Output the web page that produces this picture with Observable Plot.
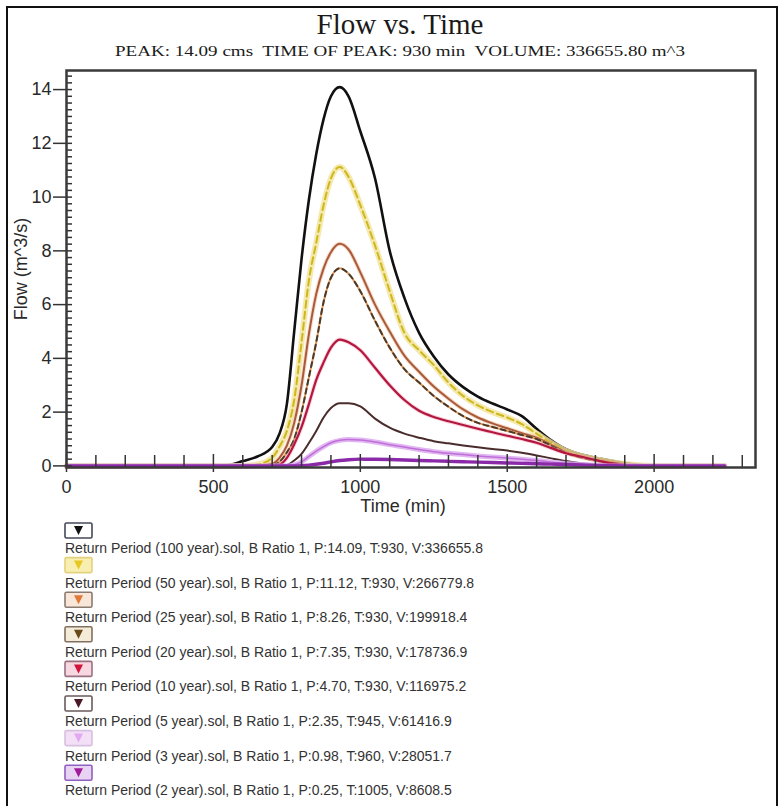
<!DOCTYPE html>
<html>
<head>
<meta charset="utf-8">
<script src="https://cdn.jsdelivr.net/npm/d3@7"></script>
<script src="https://cdn.jsdelivr.net/npm/@observablehq/plot@0.6"></script>
<style>
  body { margin: 0; background: #fff; }
  #page { position: relative; width: 782px; height: 806px; overflow: hidden; background: #fff; }
  #border { position: absolute; left: 6px; top: 6px; width: 772px; height: 840px; border: 2.5px solid #111; box-sizing: border-box; }
  #chart { position: absolute; left: 0; top: 0; }
  #overlay { position: absolute; left: 0; top: 0; }
</style>
</head>
<body>
<div id="page">
  <div id="border"></div>
  <div id="chart"></div>
  <svg id="overlay" width="782" height="806"></svg>
</div>
<script>
// ---------- data ----------
const titleText = "Flow vs. Time";
const subtitleText = "PEAK: 14.09 cms  TIME OF PEAK: 930 min  VOLUME: 336655.80 m^3";
const xLabel = "Time (min)";
const yLabel = "Flow (m^3/s)";
const xMajor = [0, 500, 1000, 1500, 2000];
const yMajor = [0, 2, 4, 6, 8, 10, 12, 14];

const times = [0, 500, 550, 600, 650, 700, 725, 750, 775, 800, 825, 850, 875, 900, 930, 960, 1000, 1050, 1100, 1150, 1200, 1250, 1300, 1350, 1400, 1450, 1500, 1550, 1600, 1650, 1700, 1750, 1800, 1850, 1900, 1950, 2000, 2240];

const flow100 = [0, 0, 0.03, 0.18, 0.35, 0.7, 1.2, 2.3, 5.0, 7.7, 9.9, 11.6, 12.9, 13.75, 14.09, 13.75, 12.45, 10.7, 8.0, 6.25, 4.95, 4.07, 3.4, 2.93, 2.58, 2.32, 2.1, 1.85, 1.38, 0.95, 0.62, 0.43, 0.3, 0.2, 0.11, 0.04, 0, 0];
const flow50  = [0, 0, 0, 0, 0.05, 0.3, 0.72, 1.3, 2.45, 4.6, 6.9, 8.3, 9.7, 10.7, 11.12, 10.75, 9.7, 8.2, 6.5, 4.95, 4.3, 3.75, 3.1, 2.6, 2.25, 2.0, 1.8, 1.55, 1.2, 0.85, 0.55, 0.37, 0.25, 0.15, 0.07, 0.02, 0, 0];
const flow25  = [0, 0, 0, 0, 0, 0.08, 0.3, 0.75, 1.6, 3.0, 4.9, 6.4, 7.35, 7.95, 8.26, 8.05, 7.2, 6.0, 5.0, 4.1, 3.5, 2.95, 2.5, 2.1, 1.8, 1.58, 1.4, 1.22, 1.05, 0.78, 0.5, 0.33, 0.22, 0.13, 0.05, 0, 0, 0];
const flow20  = [0, 0, 0, 0, 0, 0.03, 0.15, 0.5, 1.0, 2.0, 3.3, 4.6, 6.1, 7.0, 7.35, 7.15, 6.5, 5.4, 4.4, 3.6, 3.1, 2.6, 2.2, 1.85, 1.6, 1.45, 1.3, 1.15, 1.0, 0.75, 0.48, 0.32, 0.2, 0.12, 0.05, 0, 0, 0];
const flow10  = [0, 0, 0, 0, 0, 0, 0.05, 0.3, 0.8, 1.45, 2.3, 3.2, 3.85, 4.4, 4.70, 4.6, 4.3, 3.65, 3.0, 2.45, 2.05, 1.82, 1.66, 1.52, 1.38, 1.25, 1.12, 1.0, 0.86, 0.66, 0.47, 0.35, 0.22, 0.1, 0.03, 0, 0, 0];
const flow5   = [0, 0, 0, 0, 0, 0, 0, 0.03, 0.2, 0.45, 0.85, 1.3, 1.8, 2.15, 2.33, 2.33, 2.21, 1.76, 1.42, 1.2, 1.05, 0.92, 0.84, 0.76, 0.69, 0.63, 0.57, 0.49, 0.39, 0.28, 0.18, 0.1, 0.04, 0, 0, 0, 0, 0];
const flow3   = [0, 0, 0, 0, 0, 0, 0, 0, 0.04, 0.15, 0.35, 0.55, 0.72, 0.86, 0.95, 0.98, 0.96, 0.89, 0.79, 0.7, 0.61, 0.53, 0.47, 0.42, 0.37, 0.33, 0.29, 0.25, 0.2, 0.14, 0.09, 0.05, 0.02, 0, 0, 0, 0, 0];
const flow2   = [0, 0, 0, 0, 0, 0, 0, 0, 0, 0.01, 0.03, 0.06, 0.1, 0.15, 0.2, 0.23, 0.25, 0.245, 0.235, 0.22, 0.2, 0.185, 0.17, 0.155, 0.14, 0.125, 0.11, 0.095, 0.08, 0.065, 0.05, 0.035, 0.02, 0.01, 0, 0, 0, 0];

const seriesKeys = ["100 year", "50 year", "25 year", "20 year", "10 year", "5 year", "3 year", "2 year"];
const seriesValues = [flow100, flow50, flow25, flow20, flow10, flow5, flow3, flow2];
const legendText = [
  "Return Period (100 year).sol, B Ratio 1, P:14.09, T:930, V:336655.8",
  "Return Period (50 year).sol, B Ratio 1, P:11.12, T:930, V:266779.8",
  "Return Period (25 year).sol, B Ratio 1, P:8.26, T:930, V:199918.4",
  "Return Period (20 year).sol, B Ratio 1, P:7.35, T:930, V:178736.9",
  "Return Period (10 year).sol, B Ratio 1, P:4.70, T:930, V:116975.2",
  "Return Period (5 year).sol, B Ratio 1, P:2.35, T:945, V:61416.9",
  "Return Period (3 year).sol, B Ratio 1, P:0.98, T:960, V:28051.7",
  "Return Period (2 year).sol, B Ratio 1, P:0.25, T:1005, V:8608.5"
];

// ---------- styles ----------
const lineStyles = [
  [{stroke: "#111111", strokeWidth: 2.6}],
  [{stroke: "#f2e49a", strokeWidth: 6, strokeOpacity: 0.8}, {stroke: "#cdb81e", strokeWidth: 2, strokeDasharray: "7,4"}],
  [{stroke: "#efb48a", strokeWidth: 4, strokeOpacity: 0.5}, {stroke: "#a85a3c", strokeWidth: 2}],
  [{stroke: "#e39a5a", strokeWidth: 2}, {stroke: "#4a3a2c", strokeWidth: 2, strokeDasharray: "5,4"}],
  [{stroke: "#f3a0b8", strokeWidth: 4, strokeOpacity: 0.5}, {stroke: "#b3173e", strokeWidth: 2.2}],
  [{stroke: "#4a2c2c", strokeWidth: 2}],
  [{stroke: "#dcaaf0", strokeWidth: 5, strokeOpacity: 0.85}, {stroke: "#c06ed8", strokeWidth: 1.5}],
  [{stroke: "#8a2aa8", strokeWidth: 3.4}]
];
const legendStyle = [
  {fill: "#ffffff", stroke: "#44485a", tri: "#111111"},
  {fill: "#f7eeb0", stroke: "#e2d27e", tri: "#e8c820"},
  {fill: "#f8e6d8", stroke: "#8a7a70", tri: "#e07838"},
  {fill: "#f4ecd8", stroke: "#807060", tri: "#6a4a18"},
  {fill: "#f8d8e0", stroke: "#9a7080", tri: "#d0143c"},
  {fill: "#ffffff", stroke: "#6a5a5a", tri: "#4a1828"},
  {fill: "#f3e0f6", stroke: "#d8c0e0", tri: "#e2a8f0"},
  {fill: "#e8d4f2", stroke: "#9060c0", tri: "#a01c9c"}
];

// ---------- chart ----------
const W = 782, H = 520, mT = 70, mB = 53, mL = 66, mR = 27;
const FW = W - mL - mR, FH = H - mT - mB;
const rows = seriesKeys.flatMap((k, i) => times.map((t, j) => ({series: k, t, v: seriesValues[i][j]})));
const xMinor = d3.range(100, 2301, 100).filter(d => !xMajor.includes(d));
const yMinor = d3.range(0.25, 14.51, 0.25).filter(d => !yMajor.includes(d));

const lineMarks = [];
seriesKeys.forEach((k, i) => {
  const data = rows.filter(r => r.series === k);
  lineStyles[i].forEach(s => lineMarks.push(Plot.line(data, {x: "t", y: "v", curve: "monotone-x", strokeLinejoin: "round", ...s})));
});

const tickColor = "#333";
const chart = Plot.plot({
  width: W, height: H,
  marginTop: mT, marginBottom: mB, marginLeft: mL, marginRight: mR,
  x: {domain: [0, 2345]},
  y: {domain: [-0.06, 14.71]},
  style: {background: "transparent", fontFamily: "'Liberation Sans', Arial, sans-serif", color: "#222", overflow: "visible"},
  marks: [
    ...lineMarks,
    Plot.tickX(xMinor, {x: d => d, insetTop: FH - 12, stroke: tickColor, strokeWidth: 1.5}),
    Plot.tickX(xMajor, {x: d => d, insetTop: FH - 13, insetBottom: -5, stroke: tickColor, strokeWidth: 1.5}),
    Plot.tickY(yMinor, {y: d => d, insetRight: FW - 6, stroke: tickColor, strokeWidth: 1.5}),
    Plot.tickY(yMajor, {y: d => d, insetLeft: -13, insetRight: FW - 6, stroke: tickColor, strokeWidth: 1.5}),
    Plot.frame({stroke: "#3a3a3a", strokeWidth: 2.5}),
    Plot.axisX(xMajor, {tickSize: 0, tickPadding: 13, fontSize: 18, label: null, fill: "#2a2a2a", tickFormat: d => String(d)}),
    Plot.axisY(yMajor, {tickSize: 0, tickPadding: 15, fontSize: 18, label: null, fill: "#2a2a2a", tickFormat: d => String(d)}),
    Plot.text([xLabel], {frameAnchor: "bottom", dx: -8, dy: 32, lineAnchor: "top", fontSize: 18, fill: "#2a2a2a"}),
    Plot.text([yLabel], {frameAnchor: "left", textAnchor: "middle", dx: -45, rotate: -90, fontSize: 18, fill: "#2a2a2a"})
  ]
});
document.getElementById("chart").appendChild(chart);

// ---------- header + legend ----------
const ov = d3.select("#overlay");
ov.append("text").attr("x", 400).attr("y", 34).attr("text-anchor", "middle")
  .attr("font-family", "'Liberation Serif', 'Times New Roman', serif").attr("font-size", 29).attr("fill", "#1a1a1a")
  .text(titleText);
ov.append("text").attr("x", 400).attr("y", 55.5).attr("text-anchor", "middle")
  .attr("font-family", "'Liberation Serif', 'Times New Roman', serif").attr("font-size", 14.5).attr("fill", "#1a1a1a")
  .attr("textLength", 570).attr("lengthAdjust", "spacingAndGlyphs")
  .style("white-space", "pre")
  .text(subtitleText);

const step = 34.6;
legendText.forEach((label, i) => {
  const top = 523 + i * step;
  const st = legendStyle[i];
  const g = ov.append("g");
  g.append("rect").attr("x", 65).attr("y", top).attr("width", 27).attr("height", 15).attr("rx", 1.5)
    .attr("fill", st.fill).attr("stroke", st.stroke).attr("stroke-width", 1.6);
  const cx = 78.5;
  g.append("path").attr("d", `M${cx - 4.5},${top + 3} L${cx + 4.5},${top + 3} L${cx},${top + 12} Z`).attr("fill", st.tri);
  g.append("text").attr("x", 65).attr("y", top + 30).attr("font-family", "'Liberation Sans', Arial, sans-serif")
    .attr("font-size", 14).attr("fill", "#333").text(label);
});
</script>
</body>
</html>
